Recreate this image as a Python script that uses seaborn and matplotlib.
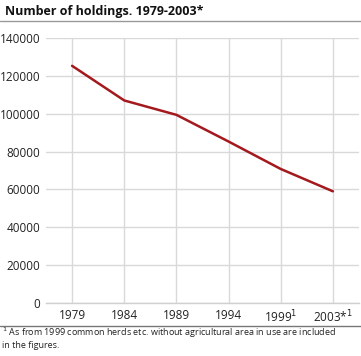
import matplotlib
matplotlib.use("Agg")
import matplotlib.pyplot as plt
import seaborn as sns
import pandas as pd
from matplotlib.lines import Line2D

# data
years = ["1979", "1984", "1989", "1994", "1999$^{1}$", "2003*$^{1}$"]
holdings = [125300, 107000, 99400, 85300, 70800, 59000]

df = pd.DataFrame({"year": years, "holdings": holdings})

sns.set_theme(style="whitegrid")
plt.rcParams["font.family"] = ["Open Sans", "DejaVu Sans"]

fig = plt.figure(figsize=(3.61, 3.56), dpi=100)
ax = fig.add_axes([46 / 361, 1 - 303 / 356, 313 / 361, 265 / 356])

sns.lineplot(data=df, x="year", y="holdings", sort=False, color="#a3191e",
             linewidth=1.8, ax=ax)

ax.set_xlim(-0.5, 5.5)
ax.set_ylim(0, 140000)
ax.set_yticks(range(0, 140001, 20000))
ax.set_xlabel("")
ax.set_ylabel("")
ax.grid(True, color="#d9d9d9", linewidth=1)
for s in ["left", "right", "top"]:
    ax.spines[s].set_visible(False)
ax.spines["bottom"].set_color("#d0d0d0")
ax.spines["bottom"].set_linewidth(1)
ax.tick_params(axis="both", labelsize=8.5, colors="#222222", length=0, pad=4)
ax.set_axisbelow(True)

fig.text(5 / 361, 1 - 12 / 356, "Number of holdings. 1979-2003*", fontsize=9,
         fontweight="bold", va="center", ha="left", color="#111111")
fig.add_artist(Line2D([0, 1], [1 - 20.5 / 356] * 2, color="#999999", linewidth=1,
                      transform=fig.transFigure))
fig.add_artist(Line2D([0, 1], [1 - 326 / 356] * 2, color="#777777", linewidth=1,
                      transform=fig.transFigure))
fig.text(2 / 361, 1 - 333 / 356,
         "$^{1}$ As from 1999 common herds etc. without agricultural area in use are included",
         fontsize=6.5, va="center", ha="left", color="#222222")
fig.text(2 / 361, 1 - 346 / 356, "in the figures.",
         fontsize=6.5, va="center", ha="left", color="#222222")

fig.savefig("out.png", dpi=100)
